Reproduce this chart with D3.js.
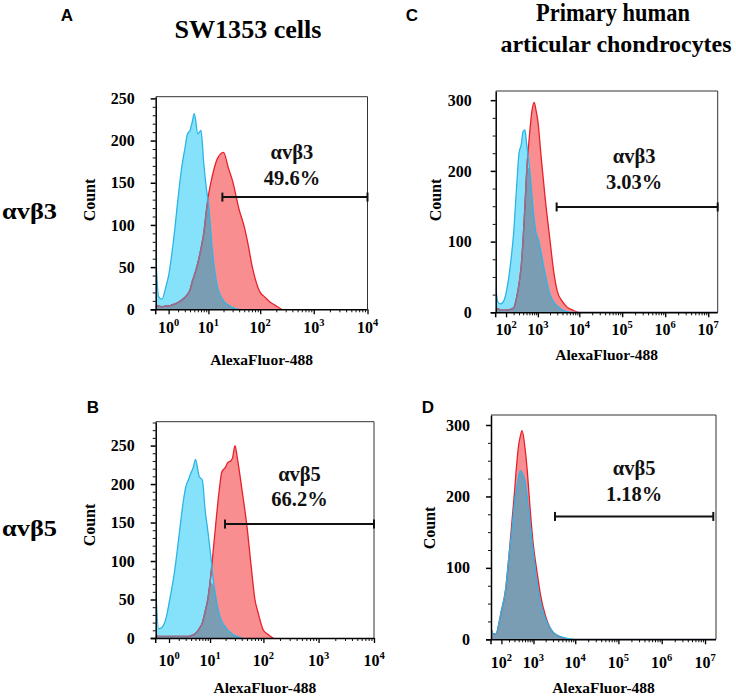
<!DOCTYPE html>
<html><head><meta charset="utf-8">
<script src="https://cdn.jsdelivr.net/npm/d3@7"></script>
<style>body{margin:0;background:#fff}</style>
</head><body>
<svg id="c" width="736" height="696" xmlns="http://www.w3.org/2000/svg"></svg>
<script>
// ---------- data (fluorescence intensity, event count) ----------
const xA     = [0.15,0.3,0.5,0.8,1,1.5,2,2.5,3,3.5,4,4.5,5,6,7,8,9,10,12,15,20,25,30,40,50,60,70,80,100,120,150,200,250];
const ctrlA  = [68,15,12,28,40,85,132,168,190,208,212,222,232,208,212,173,145,125,70,28,10,5,2,0,0,0,0,0,0,0,0,0,0];
const stainA = [5,4,3,4,4,6,8,11,14,18,23,33,40,55,72,90,115,135,158,178,186,167,152,118,98,75,52,37,20,15,9,4,0];

const xB     = [0.15,0.3,0.5,0.8,1,1.5,2,2.5,3,3.5,4,4.5,5,6,7,8,9,10,12,15,17,20,22,25,27,30,33,40,50,60,70,80,100,120,150];
const ctrlB  = [65,12,14,28,45,85,130,170,196,206,215,222,232,210,205,165,140,115,67,32,21,14,10,7,5,3,2,0,0,0,0,0,0,0,0];
const stainB = [3,2,2,2,2,2,2,2,2,2,3,4,6,12,20,35,50,72,125,190,216,222,228,230,234,250,235,195,145,92,50,33,10,5,0];

const xC     = [15,30,50,80,100,150,200,250,300,350,400,450,500,600,700,800,900,1000,1200,1500,2000,2500,3000,4000,5000,7000,10000,1.66e7];
const ctrlC  = [36,14,12,17,27,65,112,175,225,237,256,258,239,205,165,132,112,105,85,56,25,14,9,3,1,0,0,0];
const stainC = [3,5,3,3,3,4,6,20,40,65,105,150,196,250,285,297,285,270,222,165,102,55,30,15,8,3,0,0];

const xD     = [15,30,50,80,100,150,200,250,300,350,400,450,500,600,700,800,1000,1200,1500,2000,2500,3000,4000,5000,7000,10000,1.79e7];
const ctrlD  = [15,8,8,26,40,70,118,153,190,212,228,236,233,222,195,165,120,83,52,28,17,10,5,3,1,0,0];
const stainD = [15,8,8,26,40,70,118,165,205,245,272,285,292,268,232,190,130,98,62,32,17,10,5,2,0,0,0];

// gates: [start, end, count level]
const gateA = [19, 1e4, 133];
const gateB = [19.5, 1e4, 148];
const gateC = [2900, 1.66e7, 149];
const gateD = [3350, 1.55e7, 172];

const annA = ["αvβ3", "49.6%"];
const annB = ["αvβ5", "66.2%"];
const annC = ["αvβ3", "3.03%"];
const annD = ["αvβ5", "1.18%"];

const yTicksAB = [0,50,100,150,200,250];
const yTicksCD = [0,100,200,300];
const expsAB = [0,1,2,3,4];
const expsCD = [2,3,4,5,6,7];

const titleLeft = "SW1353 cells";
const titleRight = ["Primary human", "articular chondrocytes"];
const rowLabels = ["αvβ3", "αvβ5"];
const panelLetters = ["A","B","C","D"];
const xTitle = "AlexaFluor-488";
const yTitle = "Count";

// ---------- style ----------
const SERIF = "'Liberation Serif','Times New Roman',serif";
const SANS = "'Liberation Sans',Arial,sans-serif";
const col = {
  blueFill:"#86e2fb", blueLine:"#2cb4e6",
  redFill:"#f98e91", redLine:"#e8202a", redUnder:"#8c7392",
  overlap:"#7a9db4"
};

const svg = d3.select("#c");

const panels = [
  {key:"A", x:xA, ctrl:ctrlA, stain:stainA, c:1,   xdom:[0.15,1e4],   ydom:[0,252], L:155.7,R:367.5,T:96.7,B:309.3,
   yt:yTicksAB, ymin:10, exps:expsAB, gate:gateA, ann:annA, annDy:[-38,-12], annDx:-3, trail:false,
   ylabGap:21, xlabY:333, xtitY:365, cntX:95, cntY:200},
  {key:"B", x:xB, ctrl:ctrlB, stain:stainB, c:1,   xdom:[0.15,1e4],   ydom:[0,281], L:155.7,R:374,T:421.7,B:638,
   yt:yTicksAB, ymin:10, exps:expsAB, gate:gateB, ann:annB, annDy:[-43,-18], annDx:0, trail:false,
   ylabGap:21, xlabY:666, xtitY:693, cntX:95, cntY:525},
  {key:"C", x:xC, ctrl:ctrlC, stain:stainC, c:100, xdom:[15,1.66e7],  ydom:[0,313], L:495.7,R:717.7,T:91,B:312.3,
   yt:yTicksCD, ymin:25, exps:expsCD, gate:gateC, ann:annC, annDy:[-44,-18], annDx:-3, trail:true,
   ylabGap:24, xlabY:335, xtitY:360, cntX:441, cntY:200},
  {key:"D", x:xD, ctrl:ctrlD, stain:stainD, c:100, xdom:[15,1.79e7],  ydom:[0,314], L:491,R:716,T:415,B:639.3,
   yt:yTicksCD, ymin:25, exps:expsCD, gate:gateD, ann:annD, annDy:[-41,-15], annDx:0, trail:true,
   ylabGap:21, xlabY:668, xtitY:693, cntX:435, cntY:528}
];

panels.forEach((p, pi) => {
  const x = d3.scaleSymlog().constant(p.c).domain(p.xdom).range([p.L, p.R]);
  const y = d3.scaleLinear().domain(p.ydom).range([p.B, p.T]);
  const g = svg.append("g");

  const pts = p.x.map((v,i) => ({v, b:p.ctrl[i], r:p.stain[i], m:Math.min(p.ctrl[i], p.stain[i])}));

  const clipId = "clip"+p.key;
  g.append("clipPath").attr("id", clipId).append("rect")
    .attr("x", p.L).attr("y", p.T).attr("width", p.R-p.L).attr("height", p.B-p.T+1);

  const area = key => d3.area().x(d=>x(d.v)).y0(y(0)).y1(d=>y(d[key])).curve(d3.curveMonotoneX);
  const defined = key => (d,i,arr) => p.trail || d[key] > 0 || (i>0 && arr[i-1][key] > 0);
  const line = key => d3.line().x(d=>x(d.v)).y(d=>y(d[key])).curve(d3.curveMonotoneX).defined(defined(key));

  const plot = g.append("g").attr("clip-path", `url(#${clipId})`);
  // fills
  plot.append("path").datum(pts).attr("d", area("r")).attr("fill", col.redFill);
  plot.append("path").datum(pts).attr("d", area("b")).attr("fill", col.blueFill);
  plot.append("path").datum(pts).attr("d", area("m")).attr("fill", col.overlap);

  // clip for the part of the red line lying under the control histogram
  const bClip = "bclip"+p.key;
  g.append("clipPath").attr("id", bClip).append("path").datum(pts).attr("d", area("b"));

  plot.append("path").datum(pts).attr("d", line("r")).attr("fill","none")
    .attr("stroke", col.redLine).attr("stroke-width", 1.3);
  plot.append("g").attr("clip-path", `url(#${bClip})`)
    .append("path").datum(pts).attr("d", line("r")).attr("fill","none")
    .attr("stroke", col.redUnder).attr("stroke-width", 1.4);
  plot.append("path").datum(pts).attr("d", line("b")).attr("fill","none")
    .attr("stroke", col.blueLine).attr("stroke-width", 1.3);

  // frame (top & right)
  g.append("path").attr("d", `M${p.L},${p.T}H${p.R}V${p.B}`).attr("fill","none")
    .attr("stroke","#333").attr("stroke-width",1);

  // y axis
  const yMinor = d3.range(p.ydom[0], p.ydom[1]+0.001, p.ymin).filter(v => !p.yt.includes(v));
  const yMinorAxis = d3.axisLeft(y).tickValues(yMinor).tickSize(3).tickFormat("");
  const ga1 = g.append("g").attr("transform", `translate(${p.L},0)`).call(yMinorAxis);
  ga1.select(".domain").remove();
  ga1.selectAll("line").attr("stroke","#111").attr("stroke-width",1);

  const yAxis = d3.axisLeft(y).tickValues(p.yt).tickSize(5).tickPadding(p.ylabGap-5).tickSizeOuter(0);
  const ga = g.append("g").attr("transform", `translate(${p.L},0)`).call(yAxis);
  ga.select(".domain").attr("stroke","#000").attr("stroke-width",1.5);
  ga.selectAll("line").attr("stroke","#000").attr("stroke-width",1.5);
  ga.selectAll("text").attr("font-family", SERIF).attr("font-weight","bold")
    .attr("font-size", 16).attr("fill","#000");

  // x axis: major ticks at powers of ten, minor ticks 2..9
  const majors = p.exps.map(e => Math.pow(10, e));
  const minors = [];
  p.exps.forEach(e => { for (let m=2; m<=9; m++) { const v = m*Math.pow(10,e); if (v>p.xdom[0] && v<p.xdom[1]) minors.push(v); } });
  const xMinorAxis = d3.axisBottom(x).tickValues(minors).tickSize(3).tickFormat("");
  const gx1 = g.append("g").attr("transform", `translate(0,${p.B})`).call(xMinorAxis);
  gx1.select(".domain").remove();
  gx1.selectAll("line").attr("stroke","#111").attr("stroke-width",1);

  const xAxis = d3.axisBottom(x).tickValues(majors.filter(v=>v>=p.xdom[0] && v<=p.xdom[1])).tickSize(5).tickSizeOuter(0).tickFormat("");
  const gx = g.append("g").attr("transform", `translate(0,${p.B})`).call(xAxis);
  gx.select(".domain").attr("stroke","#000").attr("stroke-width",1.5)
    .attr("d", `M${p.L-5},0.5H${p.R}`);
  gx.selectAll("line").attr("stroke","#000").attr("stroke-width",1.3);
  // corner tick at axis origin
  g.append("line").attr("x1",p.L).attr("x2",p.L).attr("y1",p.B).attr("y2",p.B+5)
    .attr("stroke","#000").attr("stroke-width",1.5);

  p.exps.forEach(e => {
    const t = g.append("text").attr("x", x(Math.pow(10,e))).attr("y", p.xlabY)
      .attr("text-anchor","middle").attr("font-family", SERIF).attr("font-weight","bold")
      .attr("font-size", 16).attr("fill","#000");
    t.append("tspan").text("10");
    t.append("tspan").attr("dy", -7).attr("font-size", 10.5).text(String(e));
  });

  // axis titles
  g.append("text").attr("x", (p.L+p.R)/2).attr("y", p.xtitY).attr("text-anchor","middle")
    .attr("font-family", SERIF).attr("font-weight","bold").attr("font-size",15.5).text(xTitle);
  g.append("text").attr("transform", `translate(${p.cntX},${p.cntY}) rotate(-90)`).attr("text-anchor","middle")
    .attr("font-family", SERIF).attr("font-weight","bold").attr("font-size",16).text(yTitle);

  // gate
  const gy = y(p.gate[2]), gx0 = x(p.gate[0]), gx1p = x(p.gate[1]);
  g.append("line").attr("x1",gx0).attr("x2",gx1p).attr("y1",gy).attr("y2",gy).attr("stroke","#111").attr("stroke-width",2);
  [gx0, gx1p].forEach(xx => g.append("line").attr("x1",xx).attr("x2",xx).attr("y1",gy-4.5).attr("y2",gy+4.5)
    .attr("stroke","#111").attr("stroke-width",2));

  const cx = (gx0+gx1p)/2 + p.annDx;
  p.ann.forEach((s,i) => g.append("text").attr("x", cx).attr("y", gy + p.annDy[i]).attr("text-anchor","middle")
    .attr("font-family", SERIF).attr("font-weight","bold").attr("font-size",20.5).attr("fill","#111").text(s));
});

// panel letters
const letterPos = [[67,21],[93,413],[412,21],[428,413]];
panelLetters.forEach((l,i) => svg.append("text").attr("x",letterPos[i][0]).attr("y",letterPos[i][1])
  .attr("text-anchor","middle").attr("font-family",SANS).attr("font-weight","bold").attr("font-size",17).text(l));

// titles
svg.append("text").attr("x",248).attr("y",38).attr("text-anchor","middle").attr("font-family",SERIF)
  .attr("font-weight","bold").attr("font-size",25).attr("textLength",147).attr("lengthAdjust","spacingAndGlyphs").text(titleLeft);
svg.append("text").attr("x",613).attr("y",21).attr("text-anchor","middle").attr("font-family",SERIF)
  .attr("font-weight","bold").attr("font-size",25).attr("textLength",154).attr("lengthAdjust","spacingAndGlyphs").text(titleRight[0]);
svg.append("text").attr("x",616).attr("y",52).attr("text-anchor","middle").attr("font-family",SERIF)
  .attr("font-weight","bold").attr("font-size",24).attr("textLength",231).attr("lengthAdjust","spacingAndGlyphs").text(titleRight[1]);

// row labels
[[2,219],[2,536]].forEach((pos,i) => svg.append("text").attr("x",pos[0]).attr("y",pos[1])
  .attr("font-family",SERIF).attr("font-weight","bold").attr("font-size",24).attr("textLength",55)
  .attr("lengthAdjust","spacingAndGlyphs").text(rowLabels[i]));
</script>
</body></html>
